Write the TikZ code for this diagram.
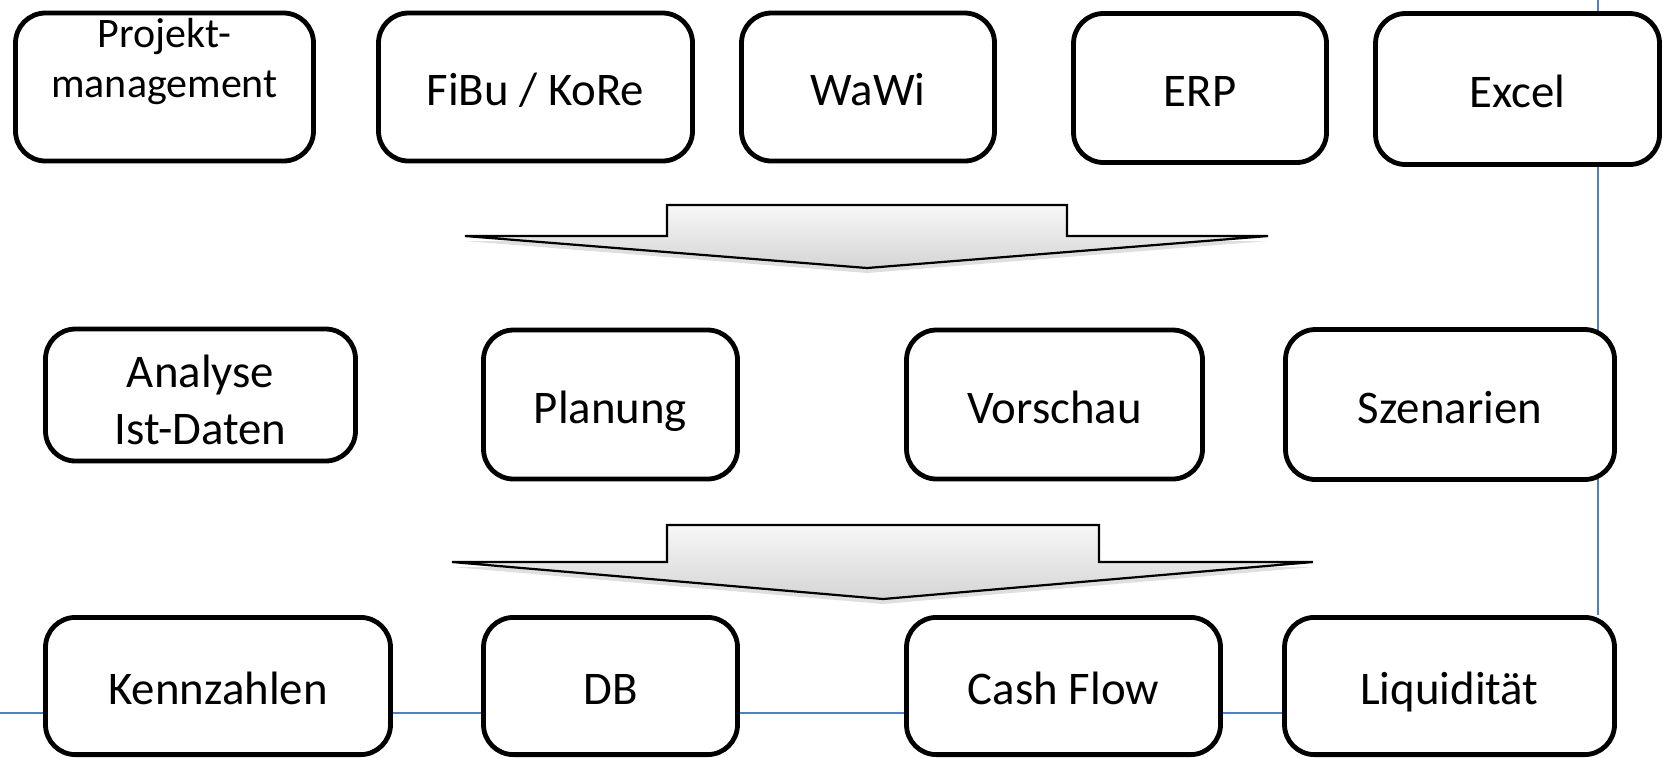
\documentclass[tikz,border=0pt]{standalone}
\usepackage{fontspec}
\setmainfont{Carlito}
\usetikzlibrary{shadows,backgrounds}
\definecolor{guideblue}{RGB}{79,129,189}
\tikzset{
	box/.style={draw, line width=2.4pt, rounded corners=15pt, fill=white, align=center, inner sep=0pt, font=\fontsize{23.4}{28.5}\selectfont,
		execute at begin node={\rule{0pt}{1em}}, execute at end node={\rule[-0.2em]{0pt}{0.2em}}},
	flow/.style={draw, line width=1.1pt, line join=miter, top color=gray!6, bottom color=gray!33, drop shadow={opacity=0.25, shadow xshift=0pt, shadow yshift=-2.5pt}},
	guide/.style={guideblue, line width=1pt}
}
\begin{document}
\begin{tikzpicture}[x=0.5pt,y=-0.5pt]
	\useasboundingbox (0,0) rectangle (1668,757);
	% Quellsysteme
	\node[box, minimum width=149pt, minimum height=74pt, font=\fontsize{21}{25}\selectfont] (proj) at (164.5,87) {Projekt-\\management\\~};
	\node[box, minimum width=157pt, minimum height=74pt] (fibu) at (535.5,87) {FiBu / KoRe};
	\node[box, minimum width=126.5pt, minimum height=74pt] (wawi) at (868,87) {WaWi};
	\node[box, minimum width=126.5pt, minimum height=74.5pt] (erp) at (1200,88) {ERP};
	\node[box, minimum width=142pt, minimum height=75.5pt] (excel) at (1517.5,89) {Excel};
	% Pfeil 1
	\draw[flow] (667,205) -- (1067,205) -- (1067,236) -- (1268,236) -- (867,268) -- (465,236) -- (667,236) -- cycle;
	% Auswertung
	\node[box, minimum width=155pt, minimum height=66pt] (ana) at (200.5,395) {\rule{0pt}{1.1em}Analyse\\Ist-Daten};
	\node[box, minimum width=127pt, minimum height=74.5pt] (plan) at (610.5,404.5) {Planung};
	\node[box, minimum width=148pt, minimum height=74.5pt] (vor) at (1054.5,404.5) {Vorschau};
	\node[box, minimum width=164.5pt, minimum height=75pt] (szen) at (1450,404.5) {Szenarien};
	% Pfeil 2
	\draw[flow] (667,525) -- (1099,525) -- (1099,562) -- (1313,562) -- (883,599) -- (452,562) -- (667,562) -- cycle;
	% Ergebnisse
	\node[box, minimum width=172.5pt, minimum height=68.6pt] (kenn) at (218,686) {Kennzahlen};
	\node[box, minimum width=127pt, minimum height=68.6pt] (db) at (610.5,686) {DB};
	\node[box, minimum width=157pt, minimum height=68.6pt] (cash) at (1063.5,686) {Cash Flow};
	\node[box, minimum width=165pt, minimum height=68.6pt] (liq) at (1449.5,686) {Liquidität};
	% Hilfslinien
	\coordinate (gtop) at (1598,0);
	\coordinate (gleft) at (0,713);
	\begin{scope}[on background layer]
		\draw[guide] (gtop) -- (gtop |- liq.north);
		\draw[guide] (gleft) -- (gleft -| liq.west);
	\end{scope}
\end{tikzpicture}
\end{document}
